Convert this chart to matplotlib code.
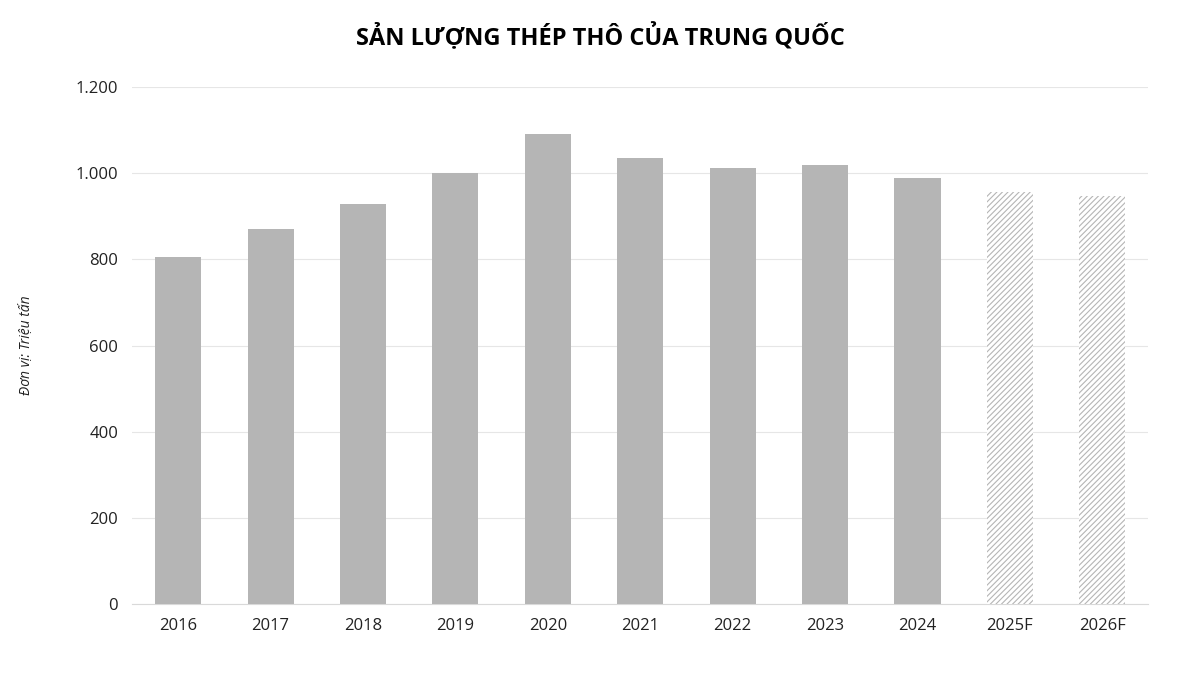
import matplotlib
matplotlib.use("Agg")
import matplotlib.pyplot as plt

years = ["2016","2017","2018","2019","2020","2021","2022","2023","2024","2025F","2026F"]
values = [805, 870, 928, 1000, 1090, 1035, 1012, 1020, 988, 956, 947]
forecast = [False]*9 + [True]*2
yticks = [0, 200, 400, 600, 800, 1000, 1200]
ytick_labels = ["0", "200", "400", "600", "800", "1.000", "1.200"]

plt.rcParams["font.family"] = "Open Sans"
plt.rcParams["hatch.color"] = "#b5b5b5"
plt.rcParams["hatch.linewidth"] = 0.8
fig = plt.figure(figsize=(12, 6.75), dpi=100)
ax = fig.add_axes([0.11, 0.105, 0.847, 0.766])
x = list(range(len(years)))
for xi, v, f in zip(x, values, forecast):
    if f:
        ax.bar(xi, v, width=0.5, color="white", edgecolor="#b5b5b5", hatch="//////", linewidth=0, zorder=3)
    else:
        ax.bar(xi, v, width=0.5, color="#b5b5b5", zorder=3)
ax.set_xlim(-0.5, len(years) - 0.5)
ax.set_ylim(0, 1200)
ax.set_yticks(yticks)
ax.set_yticklabels(ytick_labels)
ax.set_xticks(x)
ax.set_xticklabels(years)
ax.grid(axis="y", color="#e6e6e6", linewidth=0.8, zorder=0)
for s in ["top", "right", "left"]:
    ax.spines[s].set_visible(False)
ax.spines["bottom"].set_color("#d9d9d9")
ax.tick_params(axis="both", length=0, labelsize=12, colors="#222222", pad=10)
ax.set_ylabel("Đơn vị: Triệu tấn", fontsize=10, style="italic", color="#222222", labelpad=30)
fig.suptitle("SẢN LƯỢNG THÉP THÔ CỦA TRUNG QUỐC", fontsize=17, fontweight="bold", y=0.965, x=0.5)
fig.savefig("out.png")
